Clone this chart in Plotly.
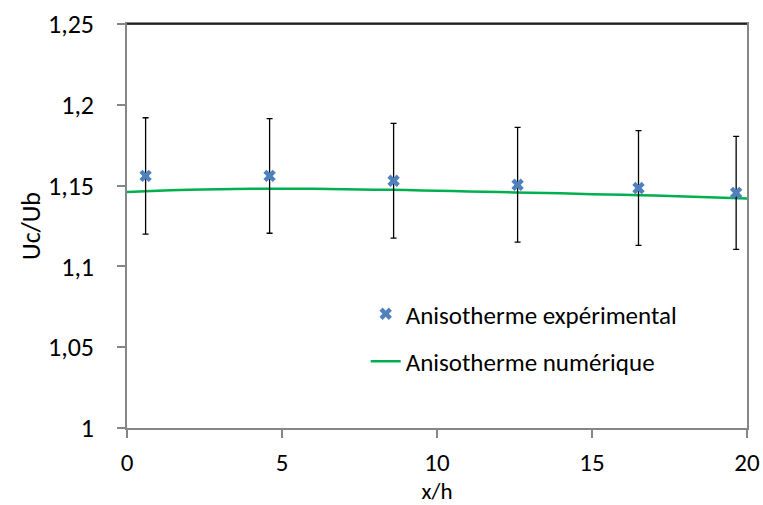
import plotly.graph_objects as go

# Experimental data
exp_x = [0.6, 4.6, 8.6, 12.6, 16.5, 19.65]
exp_y = [1.156, 1.156, 1.153, 1.1505, 1.1485, 1.1455]
exp_err = [0.036, 0.0355, 0.0355, 0.0355, 0.0355, 0.035]

# Numerical curve
num_x = [0, 1, 2, 3, 4, 5, 6, 7, 8, 9, 10, 11, 12, 13, 14, 15, 16, 17, 18, 19, 20]
num_y = [1.146, 1.1468, 1.1474, 1.1478, 1.148, 1.148, 1.148, 1.1478, 1.1475, 1.1472,
         1.1468, 1.1464, 1.146, 1.1456, 1.1452, 1.1447, 1.1443, 1.1438, 1.1432, 1.1426, 1.142]

x_ticks = [0, 5, 10, 15, 20]
x_tick_labels = ["0", "5", "10", "15", "20"]
y_ticks = [1, 1.05, 1.1, 1.15, 1.2, 1.25]
y_tick_labels = ["1", "1,05", "1,1", "1,15", "1,2", "1,25"]

FONT = "Calibri, Carlito, 'Liberation Sans Narrow', 'Open Sans', sans-serif"

fig = go.Figure()
fig.add_trace(go.Scatter(
    x=num_x, y=num_y, mode="lines", name="Anisotherme numérique",
    line=dict(color="#00B050", width=2.5, shape="spline"),
    legendgroup="b", legendrank=2,
))
fig.add_trace(go.Scatter(
    x=exp_x, y=exp_y, mode="markers", name="Anisotherme expérimental",
    marker=dict(symbol="x", size=11, color="#4F81BD"),
    error_y=dict(type="data", array=exp_err, visible=True, color="#000000",
                 thickness=1.3, width=3),
    legendgroup="a", legendrank=1,
))

fig.add_shape(type="line", xref="paper", yref="paper", x0=0, x1=1, y0=1, y1=1,
              line=dict(color="#000000", width=1.5))

fig.update_layout(
    width=763, height=505,
    margin=dict(l=127, r=16, t=24, b=77),
    paper_bgcolor="white", plot_bgcolor="white",
    font=dict(family=FONT, size=26, color="#000000"),
    showlegend=True,
    legend=dict(x=0.385, y=0.224, xanchor="left", yanchor="middle",
                font=dict(size=25), bgcolor="rgba(0,0,0,0)",
                tracegroupgap=12, traceorder="grouped", itemwidth=30),
    xaxis=dict(range=[0, 20], tickvals=x_ticks, ticktext=x_tick_labels,
               showgrid=False, zeroline=False, showline=True, linecolor="#868686",
               linewidth=1.5, mirror=True, ticks="outside", ticklen=8,
               tickcolor="#868686", tickwidth=1.5, ticklabelstandoff=3,
               tickfont=dict(size=25), automargin=False,
               title=dict(text="x/h", standoff=15, font=dict(size=23))),
    yaxis=dict(range=[1, 1.25], tickvals=y_ticks, ticktext=y_tick_labels,
               showgrid=False, zeroline=False, showline=True, linecolor="#868686",
               linewidth=1.5, mirror=True, ticks="outside", ticklen=8,
               tickcolor="#868686", tickwidth=1.5, ticklabelstandoff=18,
               automargin=False,
               title=dict(text="Uc/Ub", standoff=0, font=dict(size=26))),
)

fig.write_html("out.html", config={"displayModeBar": False},
               post_script="document.body.style.margin='0';")
